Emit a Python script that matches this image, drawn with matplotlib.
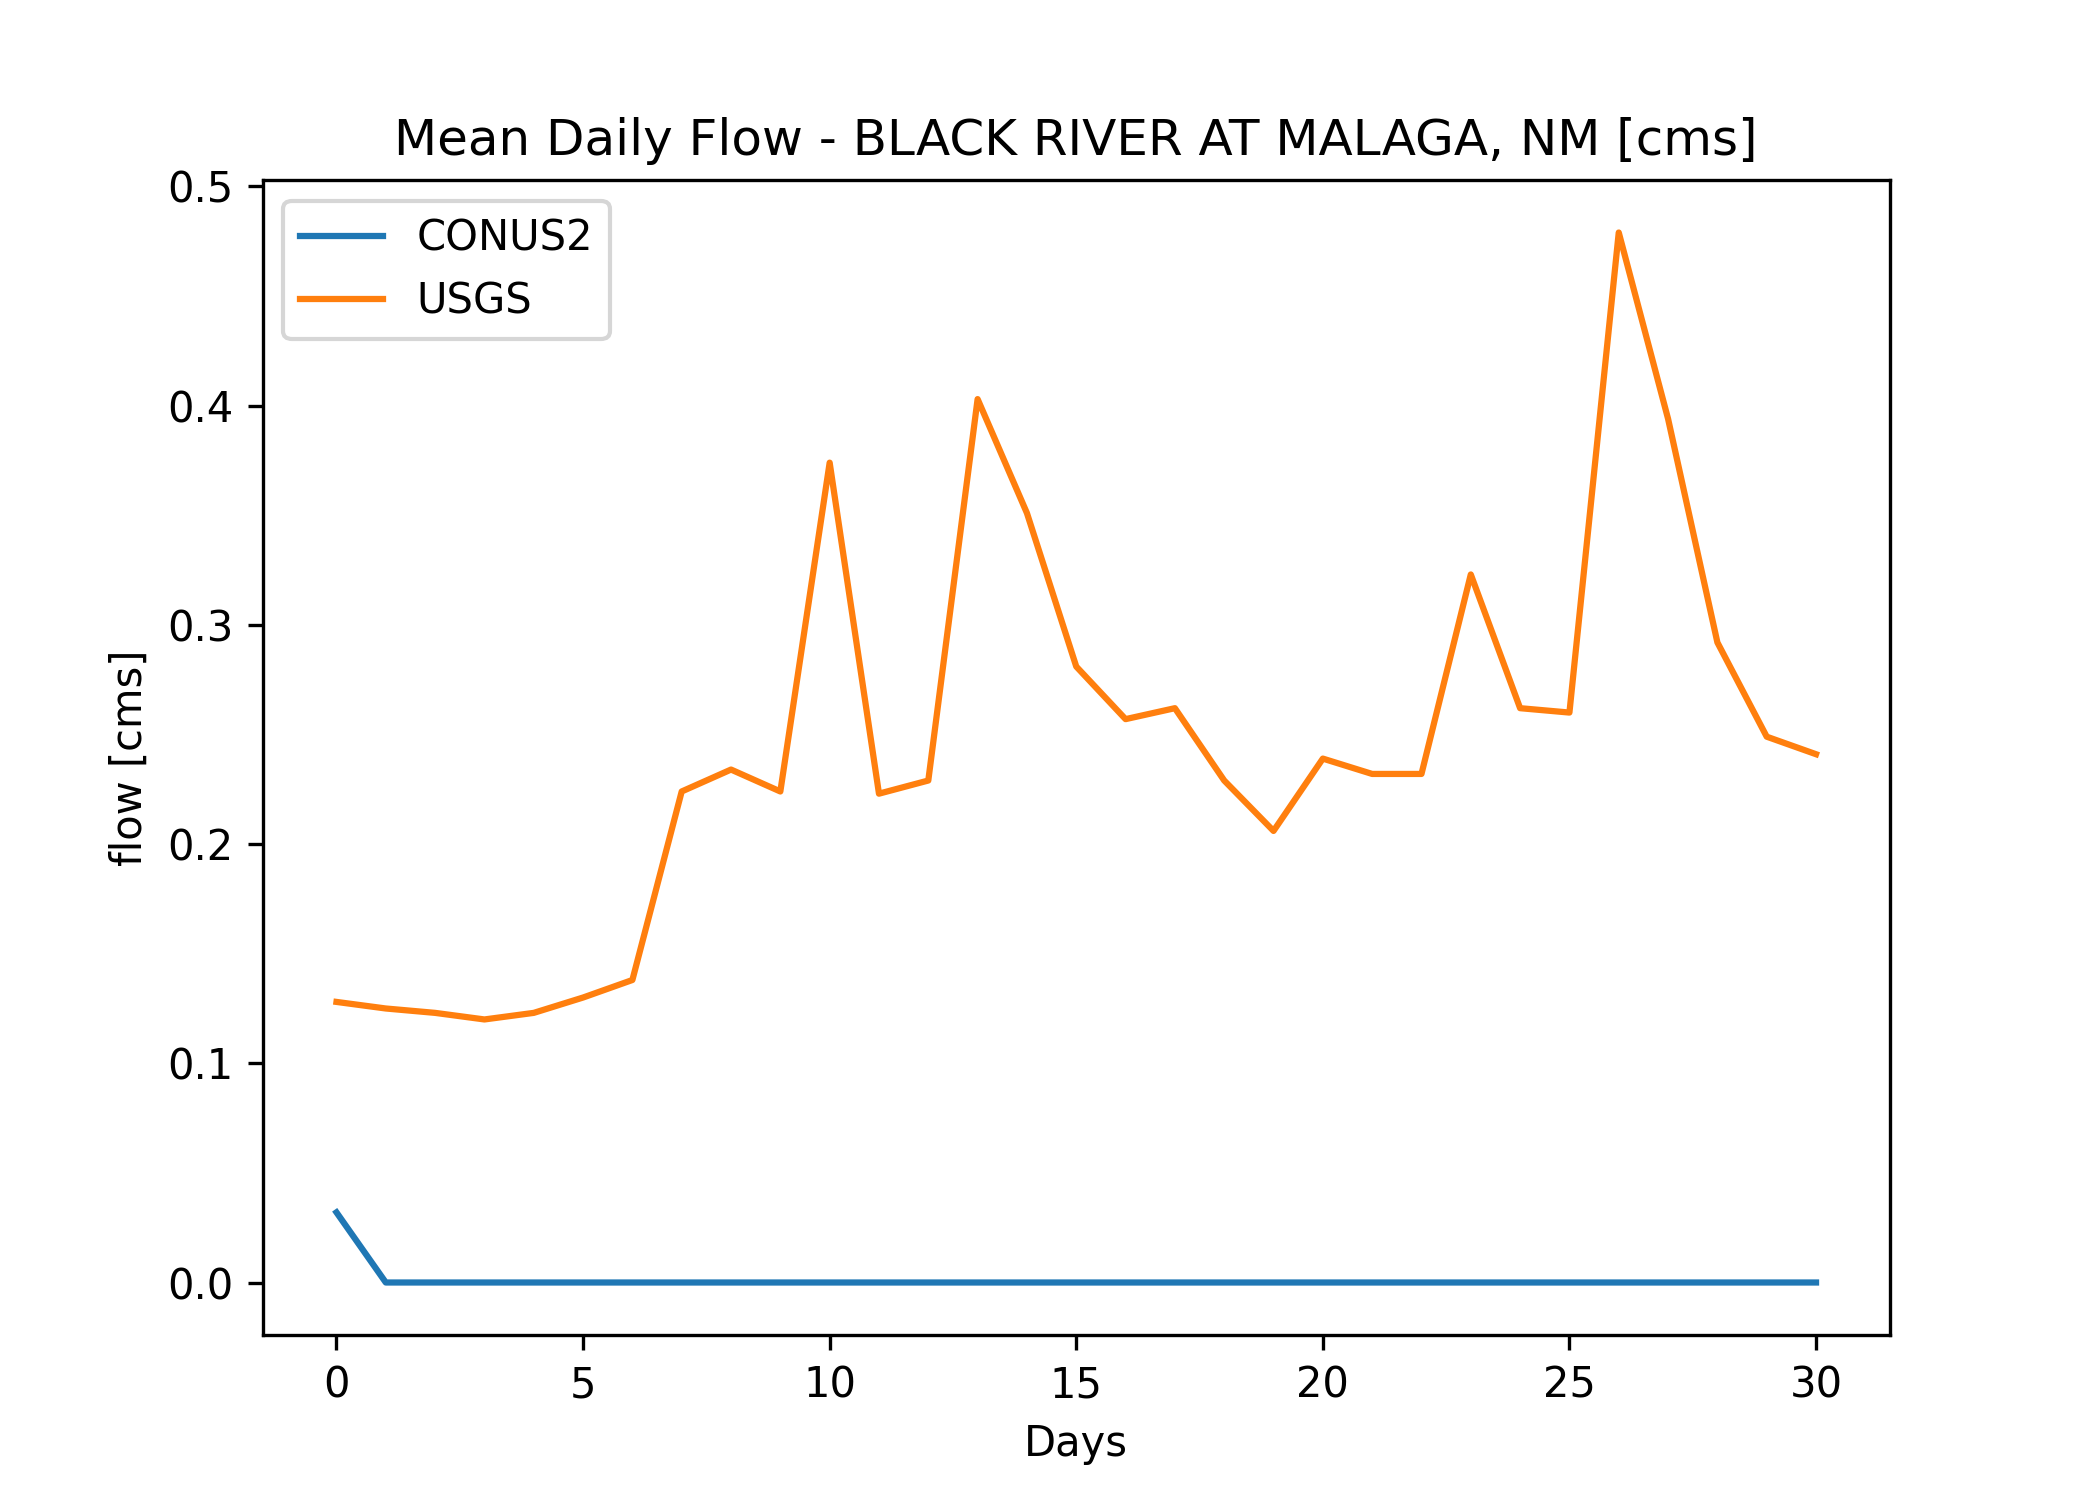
import matplotlib
matplotlib.use("Agg")
import matplotlib.pyplot as plt

days = list(range(31))
conus2 = [0.032] + [0.0] * 30
usgs = [0.128, 0.125, 0.123, 0.120, 0.123, 0.130, 0.138, 0.224, 0.234, 0.224,
        0.374, 0.223, 0.229, 0.403, 0.351, 0.281, 0.257, 0.262, 0.229, 0.206,
        0.239, 0.232, 0.232, 0.323, 0.262, 0.260, 0.479, 0.394, 0.292, 0.249,
        0.241]

fig, ax = plt.subplots(figsize=(7, 5), dpi=300)
ax.plot(days, conus2, label="CONUS2")
ax.plot(days, usgs, label="USGS")
ax.set_title("Mean Daily Flow - BLACK RIVER AT MALAGA, NM [cms]")
ax.set_xlabel("Days")
ax.set_ylabel("flow [cms]")
ax.legend(loc="upper left")
fig.savefig("out.png")
